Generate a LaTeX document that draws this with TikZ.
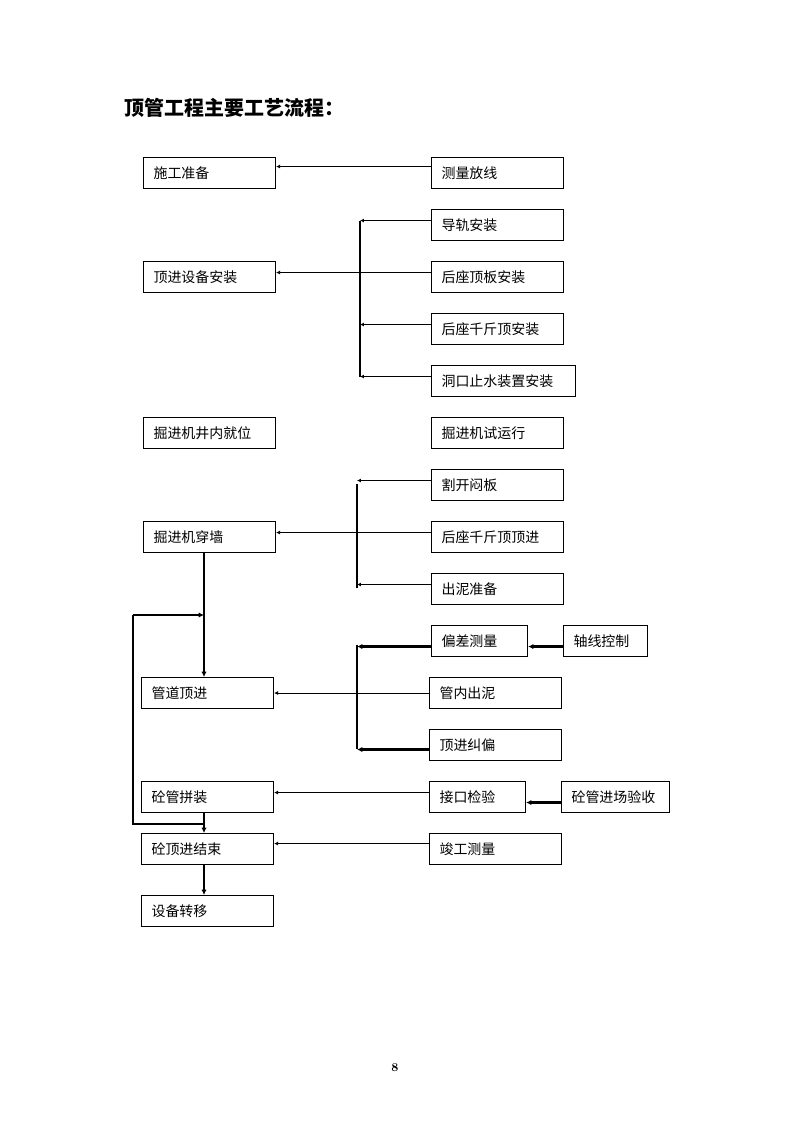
\documentclass[tikz,border=0pt]{standalone}
\usepackage{fontspec}
\newfontfamily\cjk{Noto Sans CJK SC}
\usepackage{tikz}
\usetikzlibrary{arrows.meta}
\newlength\pxu
\setlength\pxu{0.026415cm}

\begin{document}
\begin{tikzpicture}[x=0.026415cm, y=-0.026415cm,
        box/.style={draw, line width=0.8pt, anchor=north west, inner xsep=10\pxu, inner ysep=0pt,
            minimum height=31\pxu, text width=#1, align=left, font=\cjk\fontsize{10.5}{12}\selectfont},
        box/.default=112\pxu,
        link/.style={line width=0.8pt, -{Latex[length=3pt,width=3pt]}},
        heavy/.style={line width=1.8pt, -{Latex[length=4pt,width=4pt]}}]
        \useasboundingbox (0,0) rectangle (795,1123);
        \node[anchor=west, font=\cjk\bfseries\fontsize{15}{18}\selectfont] (title) at (120,108) {顶管工程主要工艺流程：};

        \node[box] (sgzb) at (143,157) {施工准备};
        \node[box] (sbaz) at (143,261) {顶进设备安装};
        \node[box] (jjjw) at (143,417) {掘进机井内就位};
        \node[box] (jjcq) at (143,521) {掘进机穿墙};
        \node[box] (gdjj) at (141,677) {管道顶进};
        \node[box] (ggpz) at (141,781) {砼管拼装};
        \node[box] (djjs) at (141,833) {砼顶进结束};
        \node[box] (sbzy) at (141,895) {设备转移};

        \node[box] (clfx) at (431,157) {测量放线};
        \node[box] (dgaz) at (431,209) {导轨安装};
        \node[box] (hzdb) at (431,261) {后座顶板安装};
        \node[box] (hzqj) at (431,313) {后座千斤顶安装};
        \node[box=124\pxu] (dkzs) at (431,365) {洞口止水装置安装};
        \node[box] (jjsy) at (431,417) {掘进机试运行};
        \node[box] (gkmb) at (431,469) {割开闷板};
        \node[box] (hzdj) at (431,521) {后座千斤顶顶进};
        \node[box] (cnzb) at (431,573) {出泥准备};
        \node[box=76\pxu] (pccl) at (431,625) {偏差测量};
        \node[box=64\pxu] (zxkz) at (563,625) {轴线控制};
        \node[box] (gncn) at (429,677) {管内出泥};
        \node[box] (djjp) at (429,729) {顶进纠偏};
        \node[box=76\pxu] (jkjy) at (429,781) {接口检验};
        \node[box=88\pxu] (ggjs) at (561,781) {砼管进场验收};
        \node[box] (jgcl) at (429,833) {竣工测量};

        \coordinate (bus1) at (360,0);
        \coordinate (bus2) at (357,0);
        \coordinate (spine) at (204,0);
        \coordinate (loopt) at (133,615);
        \coordinate (loopb) at (133,824);

        \draw[link] ([yshift=6.5\pxu]clfx.west) -- ([yshift=6.5\pxu]sgzb.east);

        \draw[link] ([yshift=4.5\pxu]dgaz.west) -- ([yshift=4.5\pxu]dgaz.west -| bus1);
        \draw[link] ([yshift=4.5\pxu]hzdb.west) -- ([yshift=4.5\pxu]sbaz.east);
        \draw[link] ([yshift=4.5\pxu]hzqj.west) -- ([yshift=4.5\pxu]hzqj.west -| bus1);
        \draw[link] ([yshift=4.5\pxu]dkzs.west) -- ([yshift=4.5\pxu]dkzs.west -| bus1);
        \draw[line width=0.8pt] ([yshift=4.5\pxu]dgaz.west -| bus1) -- ([yshift=4.5\pxu]dkzs.west -| bus1);

        \draw[link] ([yshift=4.5\pxu]gkmb.west) -- ([yshift=4.5\pxu]gkmb.west -| bus2);
        \draw[link] ([yshift=4.5\pxu]hzdj.west) -- ([yshift=4.5\pxu]jjcq.east);
        \draw[link] ([yshift=4.5\pxu]cnzb.west) -- ([yshift=4.5\pxu]cnzb.west -| bus2);
        \draw[line width=0.8pt] ([yshift=1.5\pxu]gkmb.west -| bus2) -- ([yshift=1.5\pxu]cnzb.west -| bus2);

        \draw[heavy] ([yshift=-5.5\pxu]pccl.west) -- ([yshift=-5.5\pxu]pccl.west -| bus2);
        \draw[heavy] ([yshift=-5.5\pxu]zxkz.west) -- ([yshift=-5.5\pxu]pccl.east);
        \draw[link] (gncn.west) -- (gdjj.east);
        \draw[heavy] ([yshift=-4.5\pxu]djjp.west) -- ([yshift=-4.5\pxu]djjp.west -| bus2);
        \draw[line width=0.8pt] ([yshift=-3.5\pxu]pccl.west -| bus2) -- ([yshift=-3.5\pxu]djjp.west -| bus2);

        \draw[link] ([yshift=4.5\pxu]jkjy.west) -- ([yshift=4.5\pxu]ggpz.east);
        \draw[heavy] ([yshift=-5.5\pxu]ggjs.west) -- ([yshift=-5.5\pxu]jkjy.east);
        \draw[link] ([yshift=5.5\pxu]jgcl.west) -- ([yshift=5.5\pxu]djjs.east);

        \draw[heavy] (jjcq.south -| spine) -- (gdjj.north -| spine);
        \draw[heavy] (loopt) -- (loopt -| spine);
        \draw[line width=0.8pt] (loopt) -- (loopb) -- (loopb -| spine);
        \draw[heavy] (ggpz.south -| spine) -- (djjs.north -| spine);
        \draw[heavy] (djjs.south -| spine) -- (sbzy.north -| spine);

        \node[font=\bfseries\fontsize{9}{10}\selectfont] (pgno) at (395,1068) {8};
    \end{tikzpicture}
\end{document}
